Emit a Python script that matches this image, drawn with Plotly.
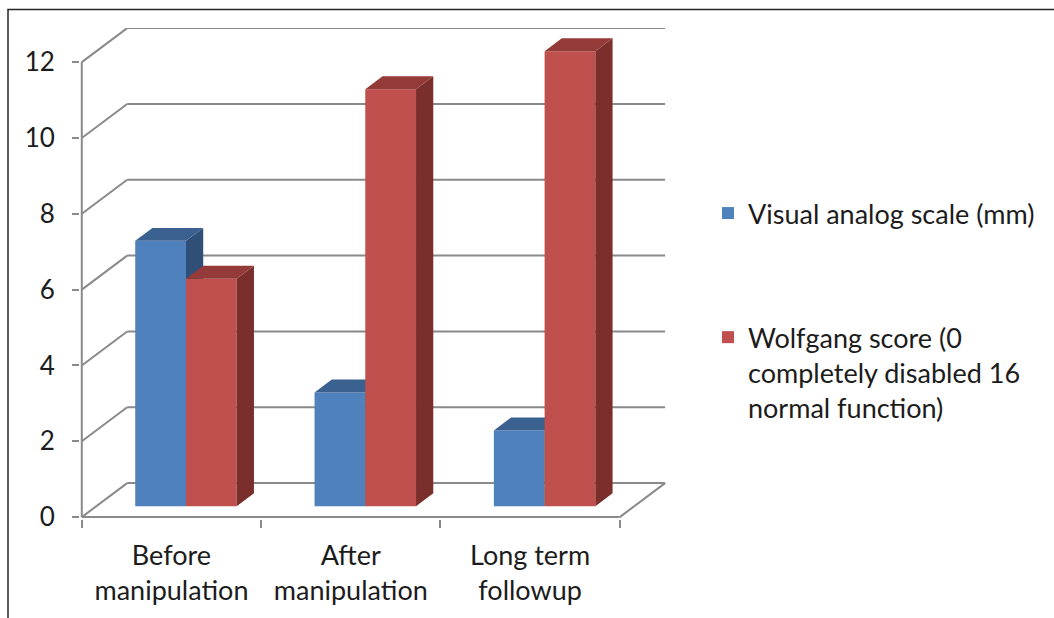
import plotly.graph_objects as go

# ---- data ----
categories = ["Before<br>manipulation", "After<br>manipulation", "Long term<br>followup"]
vas_mm = [7, 3, 2]
wolfgang = [6, 11, 12]
series_names = [
    "Visual analog scale (mm)",
    "Wolfgang score (0<br>completely disabled 16<br>normal function)",
]
y_ticks = [0, 2, 4, 6, 8, 10, 12]

# ---- styling ----
FONT = "Lato"
TEXT = "#1c1c1c"
GRID = "#8a8a8a"
FACE = ["#4f81bd", "#c0504d"]
TOP = ["#3b6191", "#943b39"]
SIDE = ["#2f4f79", "#7b2f2d"]

# oblique projection of the depth axis, in axis units
DEPTH_X = 0.253
DEPTH_Y = 0.897
PLANE = 0.32      # depth fraction where the bar front faces sit
THICK = 0.38      # bar depth as a fraction of the full depth
BAR_W = 0.283
X_LO, X_HI = -0.5, 2.5
Y_TOP = 12.9

W, H = 1054, 618
L, R, T, B = 80, 388, 28, 99

base = PLANE * DEPTH_Y
tx, ty = THICK * DEPTH_X, THICK * DEPTH_Y


def bar_geometry(values, k):
    lefts = [i + PLANE * DEPTH_X - BAR_W + k * BAR_W for i in range(len(values))]
    centers = [l + BAR_W / 2 for l in lefts]
    top_x, top_y, side_x, side_y = [], [], [], []
    for l, v in zip(lefts, values):
        r = l + BAR_W
        top_x += [l, r, r + tx, l + tx, l, None]
        top_y += [v + base, v + base, v + base + ty, v + base + ty, v + base, None]
        side_x += [r, r, r + tx, r + tx, r, None]
        side_y += [base, v + base, v + base + ty, base + ty, base, None]
    return centers, top_x, top_y, side_x, side_y


fig = go.Figure()

for k, (vals, name) in enumerate(zip([vas_mm, wolfgang], series_names)):
    xa = "x" if k == 0 else "x2"
    ya = "y" if k == 0 else "y2"
    centers, top_x, top_y, side_x, side_y = bar_geometry(vals, k)
    fig.add_trace(go.Bar(
        x=centers, y=vals, base=[base] * len(vals), width=BAR_W,
        marker=dict(color=FACE[k], line=dict(width=0)),
        name=name, legendgroup=f"s{k}", xaxis=xa, yaxis=ya,
        hoverinfo="skip",
    ))
    fig.add_trace(go.Scatter(
        x=side_x, y=side_y, mode="lines", fill="toself", fillcolor=SIDE[k],
        line=dict(width=0), showlegend=False, xaxis=xa, yaxis=ya, hoverinfo="skip",
    ))
    fig.add_trace(go.Scatter(
        x=top_x, y=top_y, mode="lines", fill="toself", fillcolor=TOP[k],
        line=dict(width=0), showlegend=False, xaxis=xa, yaxis=ya, hoverinfo="skip",
    ))

# walls: gridlines run from the front axis up the side wall and across the back wall
shapes = []
gl = dict(color=GRID, width=2)
for t in y_ticks:
    shapes.append(dict(type="line", xref="x", yref="y", layer="below",
                       x0=X_LO, y0=t, x1=X_LO + DEPTH_X, y1=t + DEPTH_Y, line=gl))
    shapes.append(dict(type="line", xref="x", yref="y", layer="below",
                       x0=X_LO + DEPTH_X, y0=t + DEPTH_Y, x1=X_HI + DEPTH_X, y1=t + DEPTH_Y, line=gl))
# front axis line, floor front edge and floor right edge
shapes.append(dict(type="line", xref="x", yref="y", layer="below",
                   x0=X_LO, y0=0, x1=X_LO, y1=max(y_ticks), line=gl))
shapes.append(dict(type="line", xref="x", yref="y", layer="below",
                   x0=X_LO, y0=0, x1=X_HI, y1=0, line=gl))
shapes.append(dict(type="line", xref="x", yref="y", layer="below",
                   x0=X_HI, y0=0, x1=X_HI + DEPTH_X, y1=DEPTH_Y, line=gl))

# outer frame of the chart
pw, ph = W - L - R, H - T - B
shapes.append(dict(type="rect", xref="paper", yref="paper", layer="below",
                   x0=(8 - L) / pw, x1=(W + 10 - L) / pw,
                   y0=-(H + 20 - T - ph) / ph, y1=(H - B - 9.5) / ph,
                   line=dict(color="#262626", width=1.5), fillcolor="rgba(0,0,0,0)"))

x_range = [X_LO - 0.01, X_HI + DEPTH_X + 0.005]
y_range = [-0.05, Y_TOP]

fig.update_layout(
    width=W, height=H,
    margin=dict(l=L, r=R, t=T, b=B),
    paper_bgcolor="white", plot_bgcolor="white",
    barmode="overlay",
    font=dict(family=FONT, size=27, color=TEXT),
    shapes=shapes,
    showlegend=True,
    legend=dict(
        x=(708 - L) / pw, xanchor="left",
        y=(H - B - 189) / ph, yanchor="top",
        valign="top", traceorder="grouped", tracegroupgap=86,
        font=dict(family=FONT, size=27, color=TEXT),
        bgcolor="rgba(0,0,0,0)",
    ),
    xaxis=dict(
        range=x_range, tickmode="array", tickvals=[0, 1, 2], ticktext=categories,
        ticks="", showgrid=False, zeroline=False, showline=False,
        ticklabelstandoff=18,
        minor=dict(tickmode="array", tickvals=[-0.5, 0.5, 1.5, 2.5], ticks="outside",
                   ticklen=8, tickwidth=2, tickcolor=GRID, showgrid=False),
        fixedrange=True,
    ),
    yaxis=dict(
        range=y_range, tickmode="array", tickvals=y_ticks,
        ticks="outside", ticklen=7, tickwidth=2, tickcolor=GRID,
        showgrid=False, zeroline=False, showline=False,
        tickfont=dict(size=26),
        ticklabelstandoff=12, fixedrange=True,
    ),
    xaxis2=dict(overlaying="x", range=x_range, visible=False, fixedrange=True),
    yaxis2=dict(overlaying="y", range=y_range, visible=False, fixedrange=True),
)

fig.write_html("out.html")
